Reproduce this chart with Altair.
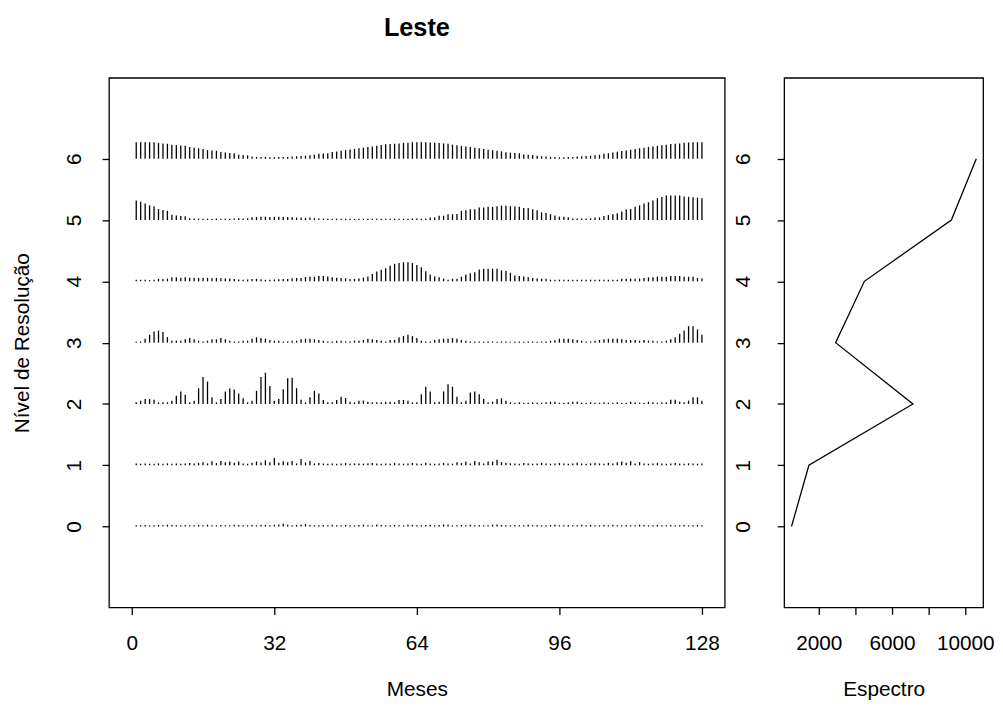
import altair as alt
import pandas as pd

# Heights of the vertical bars (in level units) for each resolution level, months 1..128
level0 = [0.02,0.02,0.025,0.02,0.02,0.025,0.02,0.03,0.025,0.02,
          0.02,0.025,0.02,0.02,0.025,0.02,0.03,0.02,0.02,0.025,
          0.02,0.02,0.03,0.025,0.02,0.02,0.025,0.02,0.03,0.025,
          0.02,0.03,0.035,0.045,0.03,0.02,0.025,0.035,0.04,0.025,
          0.02,0.02,0.025,0.02,0.03,0.02,0.02,0.025,0.02,0.02,
          0.025,0.03,0.02,0.02,0.035,0.025,0.02,0.02,0.025,0.02,
          0.02,0.03,0.025,0.02,0.02,0.025,0.03,0.02,0.025,0.035,
          0.03,0.02,0.02,0.025,0.02,0.03,0.02,0.025,0.02,0.02,
          0.03,0.035,0.025,0.02,0.02,0.025,0.02,0.02,0.03,0.02,
          0.025,0.02,0.02,0.025,0.03,0.02,0.02,0.025,0.02,0.02,
          0.03,0.02,0.025,0.02,0.02,0.025,0.02,0.03,0.02,0.02,
          0.025,0.02,0.02,0.03,0.025,0.02,0.02,0.025,0.02,0.02,
          0.025,0.02,0.02,0.025,0.02,0.02,0.025,0.02]

level1 = [0.03,0.025,0.03,0.025,0.025,0.03,0.025,0.03,0.025,0.03,
          0.025,0.03,0.035,0.03,0.035,0.05,0.03,0.065,0.035,0.07,
          0.05,0.06,0.04,0.06,0.03,0.025,0.04,0.06,0.045,0.08,
          0.05,0.12,0.04,0.065,0.05,0.07,0.03,0.1,0.045,0.07,
          0.03,0.035,0.03,0.025,0.03,0.025,0.03,0.035,0.025,0.03,
          0.03,0.025,0.03,0.035,0.03,0.025,0.03,0.025,0.035,0.03,
          0.025,0.03,0.035,0.03,0.025,0.04,0.03,0.025,0.03,0.035,
          0.03,0.025,0.05,0.035,0.06,0.03,0.07,0.05,0.03,0.06,
          0.06,0.09,0.05,0.04,0.03,0.03,0.025,0.035,0.03,0.025,
          0.03,0.04,0.03,0.025,0.03,0.035,0.03,0.025,0.03,0.04,
          0.03,0.025,0.03,0.035,0.03,0.025,0.04,0.03,0.05,0.06,
          0.04,0.065,0.03,0.05,0.03,0.025,0.03,0.035,0.03,0.025,
          0.03,0.035,0.03,0.025,0.03,0.03,0.025,0.03]

level2 = [0.027,0.054,0.08,0.08,0.07,0.027,0.027,0.027,0.054,0.134,
          0.204,0.15,0.027,0.054,0.257,0.44,0.365,0.108,0.027,0.08,
          0.204,0.253,0.236,0.172,0.092,0.027,0.054,0.214,0.44,0.51,
          0.294,0.054,0.08,0.241,0.418,0.429,0.257,0.07,0.027,0.108,
          0.214,0.172,0.064,0.027,0.027,0.064,0.118,0.097,0.037,0.027,
          0.054,0.054,0.037,0.027,0.027,0.027,0.037,0.037,0.027,0.064,
          0.064,0.054,0.027,0.027,
          0.16,0.28,0.204,0.027,0.037,0.204,0.32,0.28,0.118,0.027,
          0.054,0.188,0.204,0.16,0.08,0.027,0.037,0.08,0.092,0.054,0.027,
          0.02,0.027,0.02,0.02,0.027,0.02,0.02,0.027,0.037,0.037,
          0.02,0.02,0.027,0.037,0.037,0.02,0.02,0.027,0.02,0.02,
          0.027,0.02,0.02,0.027,0.02,0.02,0.037,0.027,0.02,0.02,
          0.037,0.027,0.02,0.027,
          0.027,0.07,0.07,0.037,0.027,0.054,0.108,0.108,0.054]

level3 = [0.015,0.02,0.064,0.129,0.182,0.198,0.172,0.091,0.032,0.032,
          0.032,0.054,0.075,0.054,0.032,0.02,0.032,0.054,0.054,0.075,
          0.054,0.032,0.02,0.02,0.032,0.032,0.064,0.086,0.075,0.064,
          0.043,0.032,0.032,0.02,0.02,0.032,0.032,0.054,0.064,0.064,
          0.054,0.043,0.032,0.02,0.02,0.032,0.032,0.02,0.02,0.032,
          0.032,0.043,0.064,0.054,0.043,0.032,0.02,0.043,0.043,0.086,
          0.107,0.129,0.107,0.075,
          0.032,0.02,0.02,0.043,0.054,0.064,0.064,0.075,0.064,0.043,
          0.032,0.02,0.02,
          0.02,0.015,0.02,0.02,0.015,0.02,0.02,0.015,0.02,0.02,
          0.015,0.02,0.02,0.015,0.02,0.02,0.03,0.04,
          0.064,0.064,0.064,
          0.054,0.043,0.032,0.02,0.02,0.032,0.043,0.054,0.064,0.064,
          0.064,0.054,0.043,0.043,0.043,0.032,0.043,0.032,0.032,0.02,
          0.02,0.032,0.054,0.086,0.145,0.198,0.268,0.268,0.215,0.129]

level4 = [0.025,0.025,0.025,0.02,0.025,0.04,0.04,0.045,0.065,0.065,
          0.06,0.065,0.06,0.06,0.055,0.06,0.055,0.05,0.055,0.05,
          0.045,0.045,0.04,0.03,0.025,0.03,0.04,0.04,0.035,0.025,
          0.025,0.03,0.035,0.04,0.04,0.05,0.055,0.055,0.07,0.075,
          0.075,0.085,0.085,0.08,0.065,0.06,0.055,0.05,0.04,0.04,
          0.045,0.06,0.08,0.12,0.16,0.19,0.215,0.255,0.285,0.3,
          0.31,0.31,0.3,0.265,
          0.23,0.165,0.11,0.08,0.065,0.045,0.027,0.043,0.043,0.075,
          0.11,0.13,0.15,0.195,0.205,0.205,0.205,0.205,0.18,0.17,
          0.14,0.095,0.085,0.08,0.065,0.055,0.045,0.043,0.043,
          0.027,0.027,0.027,0.027,0.027,0.027,0.027,0.027,
          0.027,0.027,0.027,0.027,0.027,0.027,0.027,0.027,
          0.043,0.043,0.043,0.043,0.045,0.055,
          0.065,0.065,0.075,0.075,0.075,0.085,
          0.085,0.085,0.075,0.075,0.075,0.055,0.045]

level5 = [0.32,0.30,0.27,0.24,0.225,0.18,0.165,0.15,0.085,0.075,0.065,0.06,
          0.03,0.025,0.02,0.02,0.02,0.02,0.025,0.02,0.02,0.02,0.025,0.03,0.025,0.03,
          0.045,0.05,0.055,0.055,0.05,0.055,0.055,0.05,0.05,
          0.045,0.04,0.04,0.035,0.04,
          0.03,0.025,0.02,0.02,0.02,0.02,0.02,0.02,0.02,0.02,0.02,0.02,
          0.02,0.02,0.02,0.02,0.02,0.02,0.02,0.02,0.02,0.02,0.025,0.025,
          0.02,0.025,0.043,0.043,0.07,0.07,0.095,0.095,0.1,
          0.15,0.16,0.175,0.175,0.205,0.205,0.215,0.215,
          0.225,0.235,0.235,0.225,0.22,0.215,0.195,0.195,
          0.175,0.16,0.125,0.115,0.095,0.075,0.055,0.055,0.045,
          0.027,0.027,0.027,0.027,0.027,0.043,0.043,
          0.065,0.08,0.095,0.11,0.14,0.17,0.18,0.215,
          0.24,0.27,0.29,0.32,0.355,0.375,0.4,0.4,
          0.4,0.4,0.385,0.38,0.37,0.365,0.355]

level6 = [0.27,0.27,0.27,0.27,0.27,0.255,0.25,0.245,0.23,0.225,0.215,0.21,
          0.19,0.18,0.17,0.16,0.14,0.135,0.13,0.11,0.10,0.095,0.09,
          0.065,0.06,0.055,0.035,0.03,0.03,0.03,0.025,0.025,0.03,0.03,0.03,0.035,
          0.04,0.045,0.05,0.055,0.065,0.08,0.085,0.09,0.11,0.12,0.13,0.14,
          0.15,0.16,0.17,0.18,0.19,0.2,0.21,0.225,0.235,0.24,0.245,
          0.25,0.26,0.26,0.27,0.27,
          0.27,0.27,0.265,0.26,0.255,0.25,0.245,0.23,0.22,0.21,0.2,
          0.19,0.18,0.17,0.16,0.145,0.14,0.13,0.12,0.105,0.1,0.095,0.09,
          0.07,0.065,0.06,0.05,0.04,0.035,0.03,0.03,0.025,0.025,0.03,0.03,0.035,0.04,
          0.045,0.05,0.055,0.065,0.08,0.09,0.1,0.115,0.125,0.135,0.145,
          0.16,0.17,0.18,0.19,0.2,0.21,0.22,0.23,0.24,0.245,0.25,
          0.26,0.265,0.27,0.27,0.27]

levels = [level0, level1, level2, level3, level4, level5, level6]

# Spectrum per level (right panel)
spec_levels = [0, 1, 2, 3, 4, 5, 6]
spec_values = [510, 1460, 7140, 2920, 4490, 9240, 10600]

x_ticks = [0, 32, 64, 96, 128]
y_ticks = [0, 1, 2, 3, 4, 5, 6]
spec_ticks = [2000, 4000, 6000, 8000, 10000]

rows = []
for lv, hs in enumerate(levels):
    for i, h in enumerate(hs, start=1):
        rows.append({"mes": i, "nivel": lv, "topo": lv + h})
df = pd.DataFrame(rows)
spec_df = pd.DataFrame({"nivel": spec_levels, "espectro": spec_values})

FONT = "Liberation Sans"
FS = 21
ydom = [-1.32, 7.32]

left = alt.Chart(df).mark_rule(color="black", strokeWidth=1.3).encode(
    x=alt.X("mes:Q",
            scale=alt.Scale(domain=[-5.12, 133.12], nice=False, zero=False),
            axis=alt.Axis(values=x_ticks, title="Meses", labelPadding=18, titlePadding=26)),
    y=alt.Y("nivel:Q",
            scale=alt.Scale(domain=ydom, nice=False, zero=False),
            axis=alt.Axis(values=y_ticks, title="Nível de Resolução", labelAngle=-90,
                          labelPadding=18, titlePadding=31)),
    y2="topo:Q",
).properties(
    width=622, height=535,
    title=alt.TitleParams("Leste", fontSize=25.5, fontWeight="bold", font=FONT,
                          anchor="middle", offset=36.5, color="black"),
)

right = alt.Chart(spec_df).mark_line(color="black", strokeWidth=1.3).encode(
    x=alt.X("espectro:Q",
            scale=alt.Scale(domain=[108, 10973], nice=False, zero=False),
            axis=alt.Axis(values=spec_ticks, format="d", title="Espectro",
                          labelExpr="(datum.value == 4000 || datum.value == 8000) ? '' : datum.label",
                          labelPadding=18, titlePadding=26)),
    y=alt.Y("nivel:Q",
            scale=alt.Scale(domain=ydom, nice=False, zero=False),
            axis=alt.Axis(values=y_ticks, title=None, labelAngle=-90, labelPadding=24)),
    order=alt.Order("nivel:Q"),
).properties(width=201, height=535)

chart = alt.hconcat(left, right, spacing=6).properties(
    padding={"left": 3, "top": 4, "right": 0, "bottom": 0}
).configure_view(
    stroke="black", strokeWidth=1.3
).configure_axis(
    domain=False, grid=False, ticks=True, tickColor="black", tickSize=7, tickWidth=1.3,
    labelFont=FONT, labelFontSize=FS, labelColor="black",
    titleFont=FONT, titleFontSize=FS, titleFontWeight="normal", titleColor="black",
    labelFlush=False, labelOverlap=False,
).configure_title(font=FONT)

chart.save("out.html", embed_options={"renderer": "svg", "actions": False})
